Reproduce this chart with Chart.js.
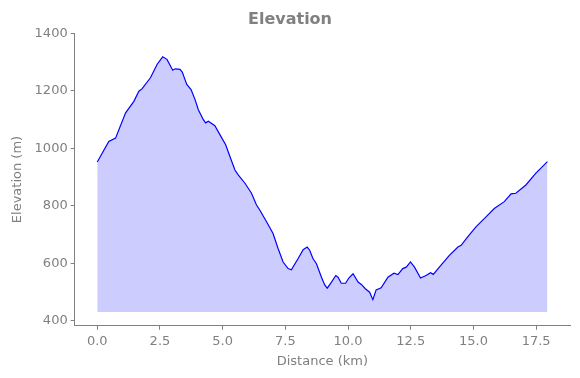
<!DOCTYPE html>
<html>
<head>
<meta charset="utf-8">
<script src="https://cdn.jsdelivr.net/npm/chart.js@4/dist/chart.umd.min.js"></script>
<style>
  html, body { margin: 0; padding: 0; background: #fff; }
</style>
</head>
<body>
<canvas id="elevationChart" width="580" height="378"></canvas>
<script>
const distanceKm = [0, 0.46, 0.73, 1.13, 1.46, 1.66, 1.79, 2.12, 2.39, 2.61, 2.78, 3.01, 3.11, 3.30, 3.39, 3.57, 3.74, 3.90, 4.03, 4.23, 4.32, 4.43, 4.69, 4.89, 5.12, 5.29, 5.49, 5.62, 5.89, 6.15, 6.35, 6.48, 6.75, 7.01, 7.21, 7.41, 7.61, 7.74, 8.01, 8.21, 8.37, 8.47, 8.60, 8.74, 8.94, 9.07, 9.17, 9.34, 9.51, 9.60, 9.73, 9.90, 10.04, 10.20, 10.40, 10.53, 10.69, 10.86, 10.99, 11.12, 11.32, 11.59, 11.83, 11.99, 12.18, 12.32, 12.49, 12.65, 12.89, 13.11, 13.29, 13.40, 13.64, 14.04, 14.38, 14.51, 14.77, 15.10, 15.57, 15.83, 16.23, 16.50, 16.69, 17.09, 17.49, 17.75, 17.95];
const elevationM = [952, 1023, 1035, 1123, 1163, 1198, 1207, 1245, 1292, 1318, 1309, 1271, 1276, 1274, 1265, 1222, 1204, 1169, 1134, 1099, 1088, 1094, 1078, 1047, 1012, 971, 924, 907, 878, 843, 802, 785, 744, 703, 651, 604, 581, 577, 616, 647, 656, 645, 616, 598, 551, 524, 513, 534, 557, 551, 530, 530, 549, 563, 534, 526, 511, 499, 473, 507, 514, 551, 565, 560, 581, 586, 604, 586, 548, 557, 567, 561, 586, 627, 656, 662, 691, 726, 767, 790, 814, 841, 843, 872, 913, 936, 953];
const fillBase = 430;
const xTicks = [0, 2.5, 5, 7.5, 10, 12.5, 15, 17.5];
const yTicks = [400, 600, 800, 1000, 1200, 1400];

const textGray = '#808080';
const font = { family: 'DejaVu Sans', size: 13 };

const points = distanceKm.map((d, i) => ({ x: d, y: elevationM[i] }));

new Chart(document.getElementById('elevationChart'), {
  type: 'line',
  data: {
    datasets: [{
      data: points,
      borderColor: '#0000ff',
      borderWidth: 1.2,
      backgroundColor: 'rgba(0, 0, 255, 0.2)',
      pointRadius: 0,
      tension: 0,
      fill: { value: fillBase }
    }]
  },
  options: {
    responsive: false,
    animation: false,
    layout: { padding: { left: 10, right: 10, top: 5, bottom: 9 } },
    plugins: {
      legend: { display: false },
      tooltip: { enabled: false },
      title: {
        display: true,
        text: 'Elevation',
        color: textGray,
        font: { family: 'DejaVu Sans', size: 16, weight: 'bold' },
        padding: { top: 5, bottom: 4 }
      }
    },
    scales: {
      x: {
        type: 'linear',
        min: -0.9,
        max: 18.85,
        afterBuildTicks: scale => { scale.ticks = xTicks.map(v => ({ value: v })); },
        border: { display: true, color: textGray, width: 1 },
        grid: { display: true, drawOnChartArea: false, drawTicks: true, tickLength: 4, color: textGray },
        ticks: { color: textGray, font, padding: 4, maxRotation: 0, autoSkip: false, callback: v => Number(v).toFixed(1) },
        title: { display: true, text: 'Distance (km)', color: textGray, font, padding: { top: 0, bottom: 0 } }
      },
      y: {
        min: 382,
        max: 1400,
        afterBuildTicks: scale => { scale.ticks = yTicks.map(v => ({ value: v })); },
        border: { display: true, color: textGray, width: 1 },
        grid: { display: true, drawOnChartArea: false, drawTicks: true, tickLength: 4, color: textGray },
        ticks: { color: textGray, font, padding: 3, autoSkip: false, callback: v => String(v) },
        title: { display: true, text: 'Elevation (m)', color: textGray, font, padding: { top: 0, bottom: 6 } }
      }
    }
  }
});
</script>
</body>
</html>
